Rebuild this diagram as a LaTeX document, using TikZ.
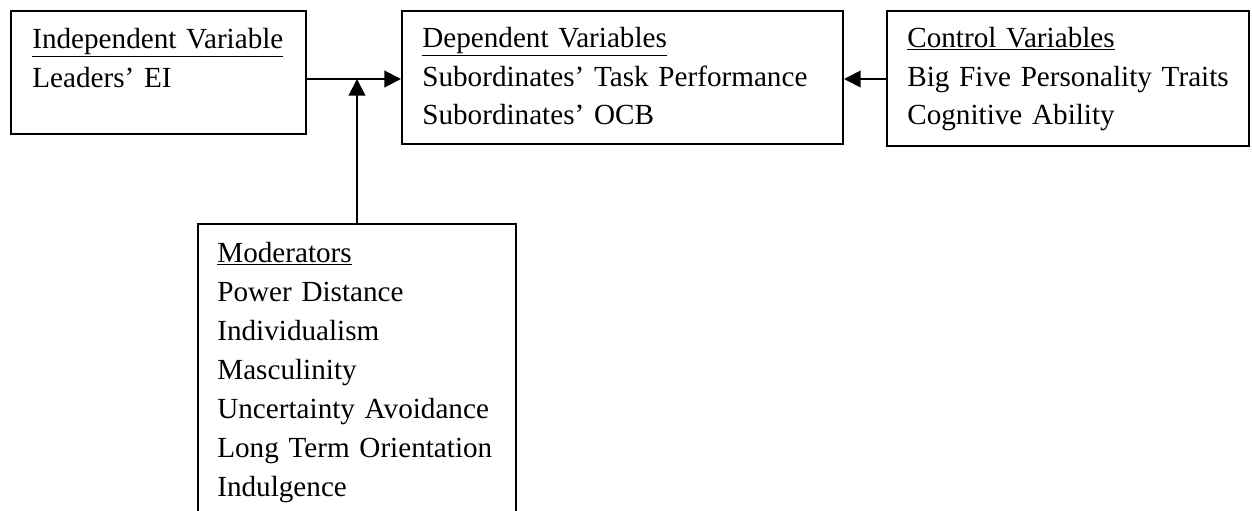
\documentclass[tikz,border=0pt]{standalone}
\usepackage{fontspec}
\setmainfont{Liberation Serif}
\usetikzlibrary{arrows.meta}
\begin{document}
\begin{tikzpicture}[x=0.6pt,y=-0.6pt,
  box/.style={draw, line width=1.2pt, anchor=north west, inner sep=0pt},
  txt/.style={anchor=base west, inner sep=0pt, align=left, text width=300pt,
    font=\fontsize{17.5pt}{23.4pt}\selectfont},
  conn/.style={line width=1.2pt, -{Triangle[length=10pt,width=10pt]}}]
\useasboundingbox (0,0) rectangle (1252,510);
\node[box, minimum width=177pt, minimum height=73.8pt] (b1) at (10,10) {};
\node[box, minimum width=264.6pt, minimum height=79.8pt] (b2) at (401,10) {};
\node[box, minimum width=217.2pt, minimum height=81pt] (b3) at (886,10) {};
\node[box, minimum width=190.8pt, minimum height=180pt] (b4) at (197,223) {};
\node[txt] (t1) at (32,48) {\underline{Independent Variable}\\Leaders’ EI};
\node[txt] (t2) at (422,47) {\underline{Dependent Variables}\\Subordinates’ Task Performance\\Subordinates’ OCB};
\node[txt] (t3) at (907,47) {\underline{Control Variables}\\Big Five Personality Traits\\Cognitive Ability};
\node[txt] (t4) at (217,262) {\underline{Moderators}\\Power Distance\\Individualism\\Masculinity\\Uncertainty Avoidance\\Long Term Orientation\\Indulgence};
\coordinate (j) at (356,79);
\draw[conn] (b1.east |- j) -- (b2.west |- j);
\draw[conn] (b4.north) -- (b4.north |- j);
\draw[conn] (b3.west |- j) -- (b2.east |- j);
\end{tikzpicture}
\end{document}
